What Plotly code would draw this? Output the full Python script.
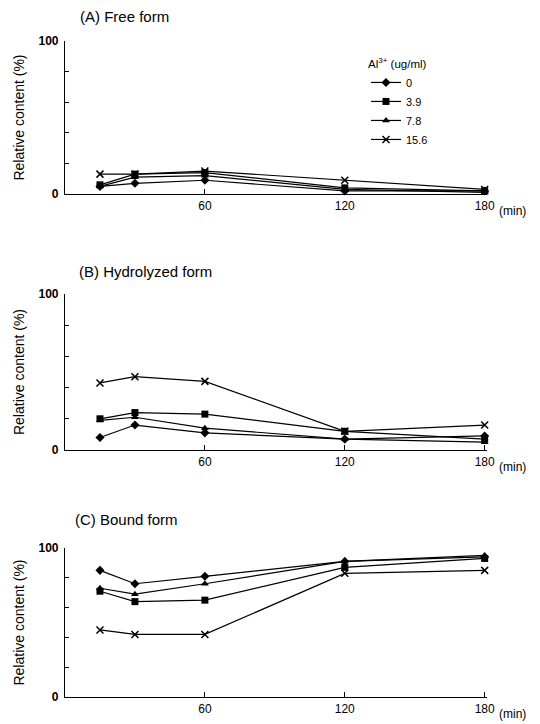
import plotly.graph_objects as go

times = [15, 30, 60, 120, 180]
series_names = ["0", "3.9", "7.8", "15.6"]
symbols = ["diamond", "square", "triangle-up", "x-thin-open"]

# Panel A: Free form
free_0 = [5, 7, 9, 2, 2]
free_39 = [6, 13, 14, 4, 2]
free_78 = [5, 11, 12, 3, 1]
free_156 = [13, 13, 15, 9, 3]

# Panel B: Hydrolyzed form
hyd_0 = [8, 16, 11, 7, 9]
hyd_39 = [20, 24, 23, 12, 7]
hyd_78 = [19, 21, 14, 7, 5]
hyd_156 = [43, 47, 44, 12, 16]

# Panel C: Bound form
bound_0 = [85, 76, 81, 91, 94]
bound_39 = [71, 64, 65, 87, 93]
bound_78 = [73, 69, 76, 91, 95]
bound_156 = [45, 42, 42, 83, 85]

panels = [
    ("(A) Free form", [free_0, free_39, free_78, free_156]),
    ("(B) Hydrolyzed form", [hyd_0, hyd_39, hyd_78, hyd_156]),
    ("(C) Bound form", [bound_0, bound_39, bound_78, bound_156]),
]

y_ticks = [0, 20, 40, 60, 80, 100]
y_ticktext = ["<b>0</b>", "", "", "", "", "<b>100</b>"]
x_ticks = [60, 120, 180]
x_ticktext = ["60", "120", "180"]

FONT = "Liberation Sans, Arial, sans-serif"

# The page body adds an 8px offset; work in screen pixels and convert.
OFF = 8
W, H = 540 - OFF, 724 - OFF
L, R, T, B = 65 - OFF, 53, 2, 2
PW, PH = W - L - R, H - T - B

def px(sx):
    return (sx - OFF - L) / PW

def py(sy):
    return (H - B - (sy - OFF)) / PH

domains = [(py(194), py(41)), (py(450), py(294)), (py(697), py(548))]
title_pos = [(78, 17), (77, 271), (73, 519)]

fig = go.Figure()
for i, (title, data) in enumerate(panels):
    ax = "" if i == 0 else str(i + 1)
    for j, vals in enumerate(data):
        sym = symbols[j]
        fig.add_trace(go.Scatter(
            x=times, y=vals, mode="lines+markers",
            name=series_names[j],
            showlegend=(i == 0),
            line=dict(color="black", width=1.2),
            marker=dict(symbol=sym, size=7,
                        color="black",
                        line=dict(color="black", width=1.5 if sym == "x-thin-open" else 0)),
            xaxis="x" + ax, yaxis="y" + ax, cliponaxis=False,
        ))

layout = dict(
    width=W, height=H,
    margin=dict(l=L, r=R, t=T, b=B, autoexpand=False),
    paper_bgcolor="white", plot_bgcolor="white",
    font=dict(family=FONT, size=12, color="black"),
    legend=dict(
        title=dict(text="Al<sup>3+</sup> (ug/ml)", font=dict(size=11.5)),
        x=px(366), y=py(53), xanchor="left", yanchor="top",
        bgcolor="rgba(0,0,0,0)", font=dict(size=11),
        tracegroupgap=0, itemwidth=30,
    ),
)

annotations = []
for i in range(3):
    ax = "" if i == 0 else str(i + 1)
    layout["xaxis" + ax] = dict(
        domain=[0, 1], range=[0, 181], anchor="y" + ax,
        showline=True, linecolor="black", linewidth=1.2,
        ticks="inside", ticklen=5, tickcolor="black",
        tickvals=x_ticks, ticktext=x_ticktext,
        showgrid=False, zeroline=False, tickfont=dict(size=12),
        automargin=False,
    )
    layout["yaxis" + ax] = dict(
        domain=list(domains[i]), range=[0, 100], anchor="x" + ax,
        showline=True, linecolor="black", linewidth=1.2,
        ticks="inside", ticklen=4, tickcolor="black",
        tickvals=y_ticks, ticktext=y_ticktext,
        showgrid=False, zeroline=False, tickfont=dict(size=12),
        ticklabelstandoff=3,
        title=dict(text="Relative content (%)", font=dict(size=14), standoff=10),
        automargin=False,
    )
    d0, d1 = domains[i]
    tx, ty = title_pos[i]
    annotations.append(dict(
        text=panels[i][0], xref="paper", yref="paper",
        x=px(tx), y=py(ty), xanchor="left", yanchor="middle",
        showarrow=False, font=dict(size=15),
    ))
    axis_bottom = [194, 450, 697][i]
    annotations.append(dict(
        text="(min)", xref="paper", yref="paper",
        x=px(497), y=py(axis_bottom + 17), xanchor="left", yanchor="middle",
        showarrow=False, font=dict(size=12),
    ))

layout["annotations"] = annotations
fig.update_layout(**layout)
fig.write_html("out.html")
